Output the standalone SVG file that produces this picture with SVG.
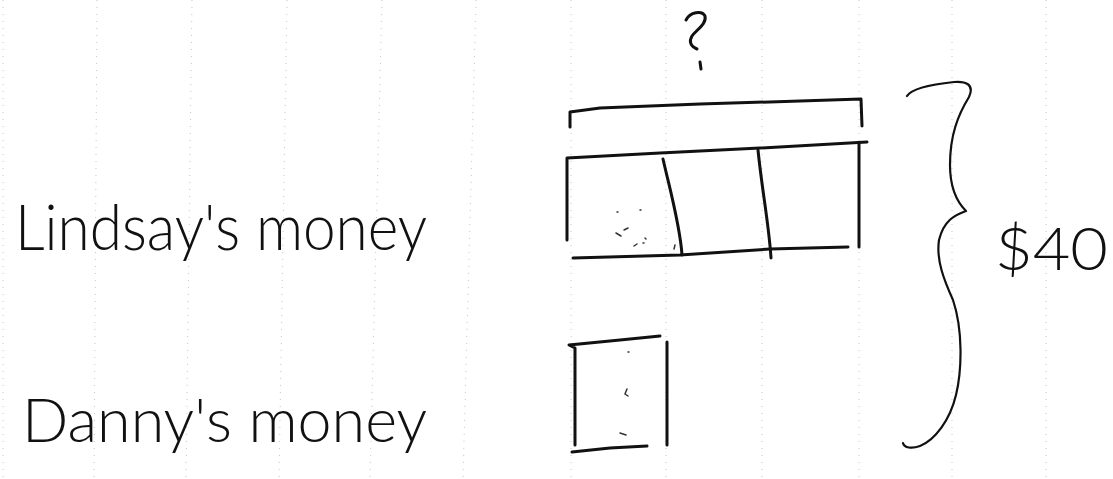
<svg xmlns="http://www.w3.org/2000/svg" width="1113" height="479" viewBox="0 0 1113 479">
<style>
.grid{stroke:#c4c4c4;stroke-width:1;stroke-dasharray:1 6;fill:none}
.ink{stroke:#111;stroke-width:3;fill:none;stroke-linecap:round;stroke-linejoin:round}
.thin{stroke:#111;stroke-width:2.2;fill:none;stroke-linecap:round;stroke-linejoin:round}
.speck{stroke:#333;stroke-width:1.5;fill:none;stroke-linecap:round}
.hand{font-family:Lato,"Liberation Sans",sans-serif;font-weight:300;fill:#111}
</style>
<rect width="1113" height="479" fill="#fff"/>
<g id="grid">
<line class="grid" x1="3" y1="0" x2="3" y2="479"/>
<line class="grid" x1="97" y1="0" x2="94" y2="479"/>
<line class="grid" x1="192" y1="0" x2="186" y2="479"/>
<line class="grid" x1="287" y1="0" x2="279" y2="479"/>
<line class="grid" x1="382" y1="0" x2="370" y2="479"/>
<line class="grid" x1="476" y1="0" x2="463" y2="479"/>
<line class="grid" x1="571" y1="0" x2="571" y2="479"/>
<line class="grid" x1="666" y1="0" x2="666" y2="479"/>
<line class="grid" x1="762" y1="0" x2="762" y2="479"/>
<line class="grid" x1="859" y1="0" x2="859" y2="479"/>
<line class="grid" x1="952" y1="0" x2="952" y2="479"/>
<line class="grid" x1="1046" y1="0" x2="1046" y2="479"/>
</g>
<g id="label-lindsay">
<text class="hand" x="15" y="250" font-size="63" textLength="412" lengthAdjust="spacingAndGlyphs">Lindsay's money</text>
</g>
<g id="label-danny">
<text class="hand" x="22" y="442" font-size="62" textLength="405" lengthAdjust="spacingAndGlyphs">Danny's money</text>
</g>
<g id="question">
<path class="ink" d="M686,20 C690,12 702,10 705,16 C707,24 696,30 692,36 C689,41 690,46 697,49"/>
<path class="ink" d="M700,62 L701,69"/>
</g>
<g id="bracket">
<path class="ink" d="M570,127 L570,112 L600,108 L700,104 L800,101 L861,99 L862,126"/>
</g>
<g id="lindsay-tape">
<path class="ink" d="M567,240 L567,158 L660,153 L760,148 L867,142"/>
<path class="ink" d="M859,143 L859,247"/>
<path class="ink" d="M573,258 L680,255 L770,249 L848,247"/>
<path class="ink" d="M663,159 C670,190 680,225 682,255"/>
<path class="ink" d="M758,150 C762,190 769,225 771,258"/>
<path class="speck" d="M617,212 l1,0 M640,210 l1,0 M616,233 l5,3 M624,230 l4,-2 M645,238 l1,1 M634,246 l3,-2 M643,243 l1,0 M675,245 l-1,4"/>
</g>
<g id="danny-tape">
<path class="ink" d="M575,445 L575,348 L569,345 L620,340 L660,336"/>
<path class="ink" d="M667,342 L667,445"/>
<path class="ink" d="M572,452 L610,448 L647,446"/>
<path class="speck" d="M627,389 l-2,5 l3,2 M620,433 l6,2 M628,352 l1,0"/>
</g>
<g id="brace">
<path class="thin" d="M907,96 C912,88 935,84 954,82 C965,81 975,84 969,97 C958,115 950,135 950,165 C950,185 955,200 966,211 C955,215 944,220 939,240 C936,260 944,280 953,300 C963,330 962,370 956,395 C950,420 935,440 920,446 C912,449 904,448 903,443"/>
</g>
<g id="label-total">
<text class="hand" x="995" y="270" font-size="60" textLength="113" lengthAdjust="spacingAndGlyphs">$40</text>
</g>
</svg>
